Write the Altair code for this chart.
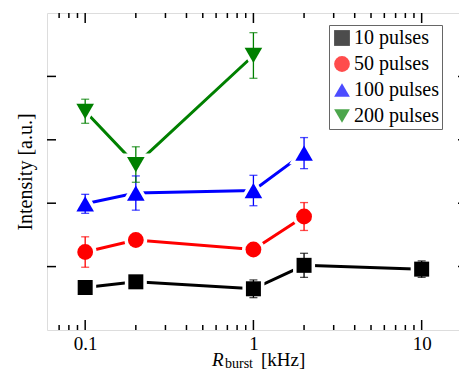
import altair as alt
import pandas as pd

series = ["10 pulses", "50 pulses", "100 pulses", "200 pulses"]
colors = ["#000000", "#ff0000", "#0000ff", "#008000"]
shapes = ["square", "circle", "triangle-up", "triangle-down"]
sizes = [225, 250, 310, 310]

x_10 = [0.1, 0.2, 1, 2, 10]
y_10 = [0.67, 0.76, 0.65, 1.02, 0.96]
e_10 = [0.07, 0.07, 0.14, 0.19, 0.13]
x_50 = [0.1, 0.2, 1, 2]
y_50 = [1.23, 1.42, 1.27, 1.79]
e_50 = [0.24, 0.07, 0.07, 0.22]
x_100 = [0.1, 0.2, 1, 2]
y_100 = [1.99, 2.16, 2.2, 2.79]
e_100 = [0.15, 0.27, 0.24, 0.245]
x_200 = [0.1, 0.2, 1]
y_200 = [3.45, 2.61, 4.33]
e_200 = [0.19, 0.28, 0.36]

x_major = [0.1, 1, 10]
x_minor = [0.07, 0.08, 0.09, 0.2, 0.3, 0.4, 0.5, 0.6, 0.7, 0.8, 0.9,
           2, 3, 4, 5, 6, 7, 8, 9]
y_ticks = [1, 2, 3, 4]

W, H = 420, 317
FONT = "Liberation Serif"

rows = []
for name, col, shp, sz, xs, ys, es in zip(
        series, colors, shapes, sizes,
        [x_10, x_50, x_100, x_200], [y_10, y_50, y_100, y_200],
        [e_10, e_50, e_100, e_200]):
    for xv, yv, ev in zip(xs, ys, es):
        rows.append(dict(series=name, col=col, shp=shp, sz=sz, x=xv, y=yv,
                         lo=yv - ev, hi=yv + ev))
df = pd.DataFrame(rows)

xscale = alt.Scale(type="log", domain=[0.0593, 18.6], nice=False)
yscale = alt.Scale(domain=[0, 5], nice=False, zero=False)

xaxis = alt.Axis(values=x_major, format="~g", ticks=False, tickSize=0, domain=False,
                 grid=False, labelFont=FONT, labelFontSize=19, labelColor="black",
                 labelPadding=4, title=None)
yaxis = alt.Axis(labels=False, ticks=False, domain=False, grid=False,
                 title="Intensity [a.u.]", titleFont=FONT, titleFontSize=20,
                 titleFontWeight="normal", titleColor="black", titlePadding=12)


def X(field="x"):
    return alt.X(f"{field}:Q", scale=xscale, axis=xaxis)


def Y(field="y"):
    return alt.Y(f"{field}:Q", scale=yscale, axis=yaxis)


base = alt.Chart(df)

lines = base.mark_line(strokeWidth=3).encode(
    x=X(), y=Y(), color=alt.Color("col:N", scale=None), detail="series:N")

halo = base.mark_point(filled=True, fill="white", stroke="white", strokeWidth=7,
                       opacity=1).encode(
    x=X(), y=Y(), shape=alt.Shape("shp:N", scale=None),
    size=alt.Size("sz:Q", scale=None))

ebar = base.mark_rule(strokeWidth=1.3).encode(
    x=X(), y=Y("lo"), y2="hi:Q", color=alt.Color("col:N", scale=None))
cap_lo = base.mark_tick(orient="horizontal", size=8, thickness=1.3).encode(
    x=X(), y=Y("lo"), color=alt.Color("col:N", scale=None))
cap_hi = base.mark_tick(orient="horizontal", size=8, thickness=1.3).encode(
    x=X(), y=Y("hi"), color=alt.Color("col:N", scale=None))

leg = alt.Legend(title=None, orient="none", legendX=282, legendY=12,
                 fillColor="white", strokeColor="#666", padding=3, rowPadding=6,
                 symbolSize=250, symbolStrokeWidth=0, labelFont=FONT,
                 labelFontSize=20, labelColor="black", labelOffset=2)

points = base.mark_point(filled=True, opacity=1, strokeWidth=0).encode(
    x=X(), y=Y(),
    color=alt.Color("series:N", scale=alt.Scale(domain=series, range=colors), legend=leg),
    shape=alt.Shape("series:N", scale=alt.Scale(domain=series, range=shapes), legend=leg),
    size=alt.Size("sz:Q", scale=None))

tmaj = pd.DataFrame({"v": x_major})
tmin = pd.DataFrame({"v": x_minor})
ty = pd.DataFrame({"v": y_ticks})

tick_style = dict(color="black", strokeWidth=1.5)
xt_maj_b = alt.Chart(tmaj).mark_rule(**tick_style).encode(
    x=X("v"), y=alt.value(H), y2=alt.value(H - 10))
xt_maj_t = alt.Chart(tmaj).mark_rule(**tick_style).encode(
    x=X("v"), y=alt.value(0), y2=alt.value(10))
xt_min_b = alt.Chart(tmin).mark_rule(**tick_style).encode(
    x=X("v"), y=alt.value(H), y2=alt.value(H - 5))
xt_min_t = alt.Chart(tmin).mark_rule(**tick_style).encode(
    x=X("v"), y=alt.value(0), y2=alt.value(5))
yt_l = alt.Chart(ty).mark_rule(**tick_style).encode(
    y=Y("v"), x=alt.value(0), x2=alt.value(9))
yt_r = alt.Chart(ty).mark_rule(**tick_style).encode(
    y=Y("v"), x=alt.value(W), x2=alt.value(W - 9))

title_df = pd.DataFrame({"a": [1]})
t_R = alt.Chart(title_df).mark_text(font=FONT, fontSize=19, fontStyle="italic",
                                    align="left", baseline="alphabetic",
                                    color="black").encode(
    x=alt.value(165), y=alt.value(353), text=alt.value("R"))
t_sub = alt.Chart(title_df).mark_text(font=FONT, fontSize=14, align="left",
                                      baseline="alphabetic", color="black").encode(
    x=alt.value(178), y=alt.value(355), text=alt.value("burst"))
t_unit = alt.Chart(title_df).mark_text(font=FONT, fontSize=19, align="left",
                                       baseline="alphabetic", color="black").encode(
    x=alt.value(214), y=alt.value(353), text=alt.value("[kHz]"))

chart = alt.layer(
    lines, halo, ebar, cap_lo, cap_hi, points,
    xt_maj_b, xt_maj_t, xt_min_b, xt_min_t, yt_l, yt_r,
    t_R, t_sub, t_unit
).properties(
    width=W, height=H, autosize="none",
    padding={"left": 39, "top": 5, "right": -8, "bottom": 40}
).configure_view(stroke="black", strokeWidth=1.8).configure(background="white")

chart.save("out.html", embed_options={"renderer": "svg", "actions": False})
